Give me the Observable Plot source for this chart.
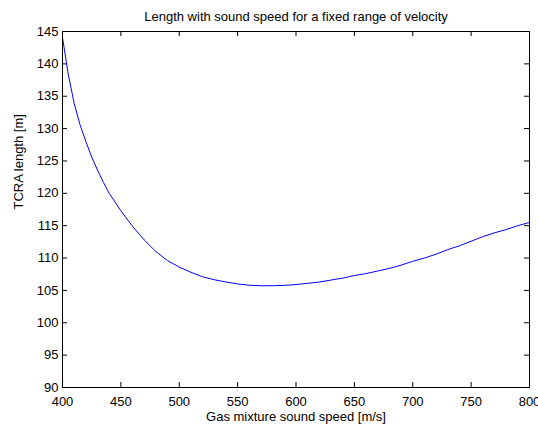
<!DOCTYPE html>
<html><head><meta charset="utf-8">
<script src="https://cdn.jsdelivr.net/npm/d3@7"></script>
<script src="https://cdn.jsdelivr.net/npm/@observablehq/plot@0.6"></script>
<style>body{margin:0;background:#fff}</style>
</head><body><div id="chart"></div>
<script>
const speed = [400,405,410,415,420,425,430,435,440,450,460,470,480,490,500,510,520,530,540,550,560,570,580,590,600,610,620,630,640,650,660,670,680,690,700,710,720,730,740,750,760,770,780,790,800];
const lengthM = [144.1,138.3,133.9,130.6,128.0,125.6,123.6,121.7,120.0,117.3,114.9,112.8,111.0,109.6,108.6,107.8,107.1,106.65,106.3,106.0,105.8,105.72,105.72,105.78,105.9,106.1,106.3,106.6,106.9,107.3,107.6,108.0,108.4,108.9,109.5,110.0,110.6,111.3,111.9,112.6,113.3,113.9,114.4,115.0,115.5];
const xTicks = [400,450,500,550,600,650,700,750,800];
const yTicks = [90,95,100,105,110,115,120,125,130,135,140,145];
const title = "Length with sound speed for a fixed range of velocity";
const xLabel = "Gas mixture sound speed [m/s]";
const yLabel = "TCRA length [m]";

const data = speed.map((s, i) => ({speed: s, len: lengthM[i]}));
const W = 538, H = 425, mt = 31, mb = 38, ml = 62, mr = 9;
const innerH = H - mt - mb, innerW = W - ml - mr;
const tk = 5;
const chart = Plot.plot({
  width: W, height: H, marginTop: mt, marginBottom: mb, marginLeft: ml, marginRight: mr,
  style: {fontFamily: "'Liberation Sans', Arial, sans-serif", fontSize: "13px", background: "white", color: "black"},
  x: {domain: [400, 800]},
  y: {domain: [90, 145]},
  marks: [
    Plot.axisX({ticks: xTicks, tickSize: 0, tickPadding: 9, label: null, tickFormat: d => String(d)}),
    Plot.axisY({ticks: yTicks, tickSize: 0, tickPadding: 4, label: null, tickFormat: d => String(d)}),
    Plot.tickX(xTicks, {x: d => d, insetTop: innerH - tk, stroke: "black"}),
    Plot.tickX(xTicks, {x: d => d, insetBottom: innerH - tk, stroke: "black"}),
    Plot.tickY(yTicks, {y: d => d, insetRight: innerW - tk, stroke: "black"}),
    Plot.tickY(yTicks, {y: d => d, insetLeft: innerW - tk, stroke: "black"}),
    Plot.line(data, {x: "speed", y: "len", stroke: "blue", strokeWidth: 1}),
    Plot.frame({stroke: "black"}),
    Plot.text([title], {frameAnchor: "top", dy: -15, lineAnchor: "middle", text: d => d}),
    Plot.text([xLabel], {frameAnchor: "bottom", dy: 29, lineAnchor: "middle", text: d => d}),
    Plot.text([yLabel], {frameAnchor: "left", dx: -44, rotate: -90, lineAnchor: "middle", text: d => d})
  ]
});
document.getElementById("chart").appendChild(chart);
</script>
</body></html>
